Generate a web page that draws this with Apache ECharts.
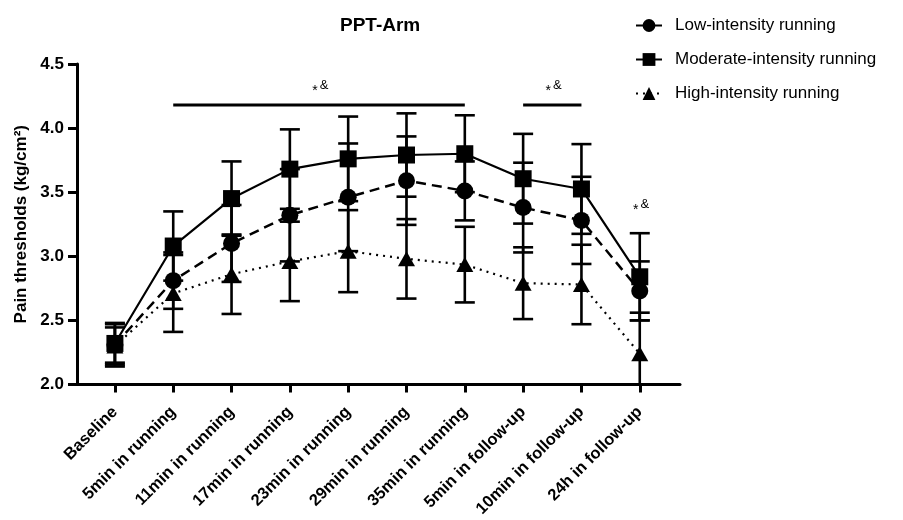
<!DOCTYPE html>
<html>
<head>
<meta charset="utf-8">
<script src="https://cdn.jsdelivr.net/npm/echarts@6/dist/echarts.min.js"></script>
<style>html,body{margin:0;padding:0;background:#fff}#c{width:903px;height:520px}</style>
</head>
<body>
<div id="c"></div>
<script>
const categories = ['Baseline','5min in running','11min in running','17min in running','23min in running','29min in running','35min in running','5min in follow-up','10min in follow-up','24h in follow-up'];
const lowMean = [2.31, 2.81, 3.10, 3.32, 3.46, 3.59, 3.51, 3.38, 3.28, 2.73];
const lowSD   = [0.17, 0.22, 0.30, 0.36, 0.42, 0.345, 0.23, 0.35, 0.34, 0.23];
const modMean = [2.32, 3.08, 3.45, 3.68, 3.76, 3.79, 3.80, 3.605, 3.525, 2.84];
const modSD   = [0.15, 0.27, 0.29, 0.31, 0.33, 0.325, 0.30, 0.35, 0.35, 0.34];
const highMean = [2.30, 2.71, 2.86, 2.96, 3.04, 2.98, 2.935, 2.79, 2.78, 2.24];
const highSD   = [0.145, 0.30, 0.31, 0.31, 0.32, 0.31, 0.295, 0.28, 0.31, 0.32];
const yTicks = [2.0, 2.5, 3.0, 3.5, 4.0, 4.5];
const sigMarks = [ {from:1, to:6, y:4.18, text:'*&'}, {from:7, to:8, y:4.18, text:'*&'}, {from:9, to:9, y:3.25, text:'*&'} ];

const FONT = 'Liberation Sans';
const idx = categories.map((c,i)=>i);
const toPts = m => m.map((v,i)=>[i,v]);
const toErr = (m,s) => m.map((v,i)=>[i,v,s[i]]);
const Y_MIN = yTicks[0], Y_MAX = yTicks[yTicks.length-1];

function errRender(params, api){
  const x = api.value(0), m = api.value(1), s = api.value(2);
  const hi = m + s, lo = m - s;
  const top = api.coord([x, Math.min(hi, Y_MAX)]);
  const bot = api.coord([x, Math.max(lo, Y_MIN)]);
  const cw = 10;
  const st = {stroke:'#000', lineWidth:2.6};
  const ch = [{type:'line', shape:{x1:top[0],y1:top[1],x2:bot[0],y2:bot[1]}, style:st}];
  if (hi <= Y_MAX) ch.push({type:'line', shape:{x1:top[0]-cw,y1:top[1],x2:top[0]+cw,y2:top[1]}, style:st});
  if (lo >= Y_MIN) ch.push({type:'line', shape:{x1:bot[0]-cw,y1:bot[1],x2:bot[0]+cw,y2:bot[1]}, style:st});
  return {type:'group', children:ch};
}
function sigRender(params, api){
  const d = sigMarks[params.dataIndex];
  const a = api.coord([d.from, d.y]), b = api.coord([d.to, d.y]);
  const cx = (a[0]+b[0])/2;
  const ch = [];
  if (d.to > d.from) ch.push({type:'line', shape:{x1:a[0],y1:a[1],x2:b[0],y2:b[1]}, style:{stroke:'#000', lineWidth:3.2}});
  ch.push({type:'text', style:{text:d.text[0], x:cx-4, y:a[1]-14, fontSize:14, fontFamily:FONT, fill:'#000', align:'center', verticalAlign:'middle'}});
  ch.push({type:'text', style:{text:d.text[1], x:cx+5, y:a[1]-20, fontSize:13, fontFamily:FONT, fill:'#000', align:'center', verticalAlign:'middle'}});
  return {type:'group', children:ch};
}

const chart = echarts.init(document.getElementById('c'), null, {renderer:'canvas'});
const baseLine = {type:'line', symbolKeepAspect:true, z:5, animation:false, itemStyle:{color:'#000'}};
chart.setOption({
  animation:false,
  backgroundColor:'#fff',
  title:{text:'PPT-Arm', left:335, top:11, textStyle:{fontFamily:FONT, fontWeight:'bold', fontSize:19, color:'#000'}},
  legend:{orient:'vertical', left:630, top:12, itemWidth:26, itemHeight:16, itemGap:17,
    textStyle:{fontFamily:FONT, fontSize:17, color:'#000', padding:[0,0,0,8]},
    data:['Low-intensity running','Moderate-intensity running','High-intensity running']},
  grid:{left:77, right:223, top:64, bottom:134, containLabel:false},
  xAxis:{type:'value', min:-0.65, max:9.69,
    axisLine:{show:true, onZero:false, lineStyle:{color:'#000', width:3}},
    axisTick:{show:true, length:8, lineStyle:{color:'#000', width:3}, customValues:idx},
    axisLabel:{customValues:idx, rotate:45, margin:25, formatter:v=>categories[Math.round(v)], fontFamily:FONT, fontWeight:'bold', fontSize:16.5, color:'#000'},
    splitLine:{show:false}},
  yAxis:{type:'value', min:Y_MIN, max:Y_MAX, interval:0.5,
    name:'Pain thresholds (kg/cm²)', nameLocation:'middle', nameGap:46,
    nameTextStyle:{fontFamily:FONT, fontWeight:'bold', fontSize:17, color:'#000'},
    axisLine:{show:true, onZero:false, lineStyle:{color:'#000', width:3}},
    axisTick:{show:true, length:9, lineStyle:{color:'#000', width:3}},
    axisLabel:{formatter:v=>v.toFixed(1), margin:13, fontFamily:FONT, fontWeight:'bold', fontSize:17, color:'#000'},
    splitLine:{show:false}},
  series:[
    {type:'custom', name:'errLow', renderItem:errRender, data:toErr(lowMean,lowSD), z:3, silent:true},
    {type:'custom', name:'errMod', renderItem:errRender, data:toErr(modMean,modSD), z:3, silent:true},
    {type:'custom', name:'errHigh', renderItem:errRender, data:toErr(highMean,highSD), z:3, silent:true},
    Object.assign({}, baseLine, {name:'Low-intensity running', data:toPts(lowMean), symbol:'circle', symbolSize:17,
      lineStyle:{color:'#000', width:2.5, type:[10,6]}}),
    Object.assign({}, baseLine, {name:'Moderate-intensity running', data:toPts(modMean), symbol:'rect', symbolSize:17,
      lineStyle:{color:'#000', width:2.2, type:'solid'}}),
    Object.assign({}, baseLine, {name:'High-intensity running', data:toPts(highMean), symbol:'triangle', symbolSize:[17,15],
      lineStyle:{color:'#000', width:2.2, type:[2,5]}}),
    {type:'custom', name:'sig', renderItem:sigRender, data:sigMarks.map(d=>[d.from, d.y]), z:6, silent:true, clip:false}
  ]
});
</script>
</body>
</html>
